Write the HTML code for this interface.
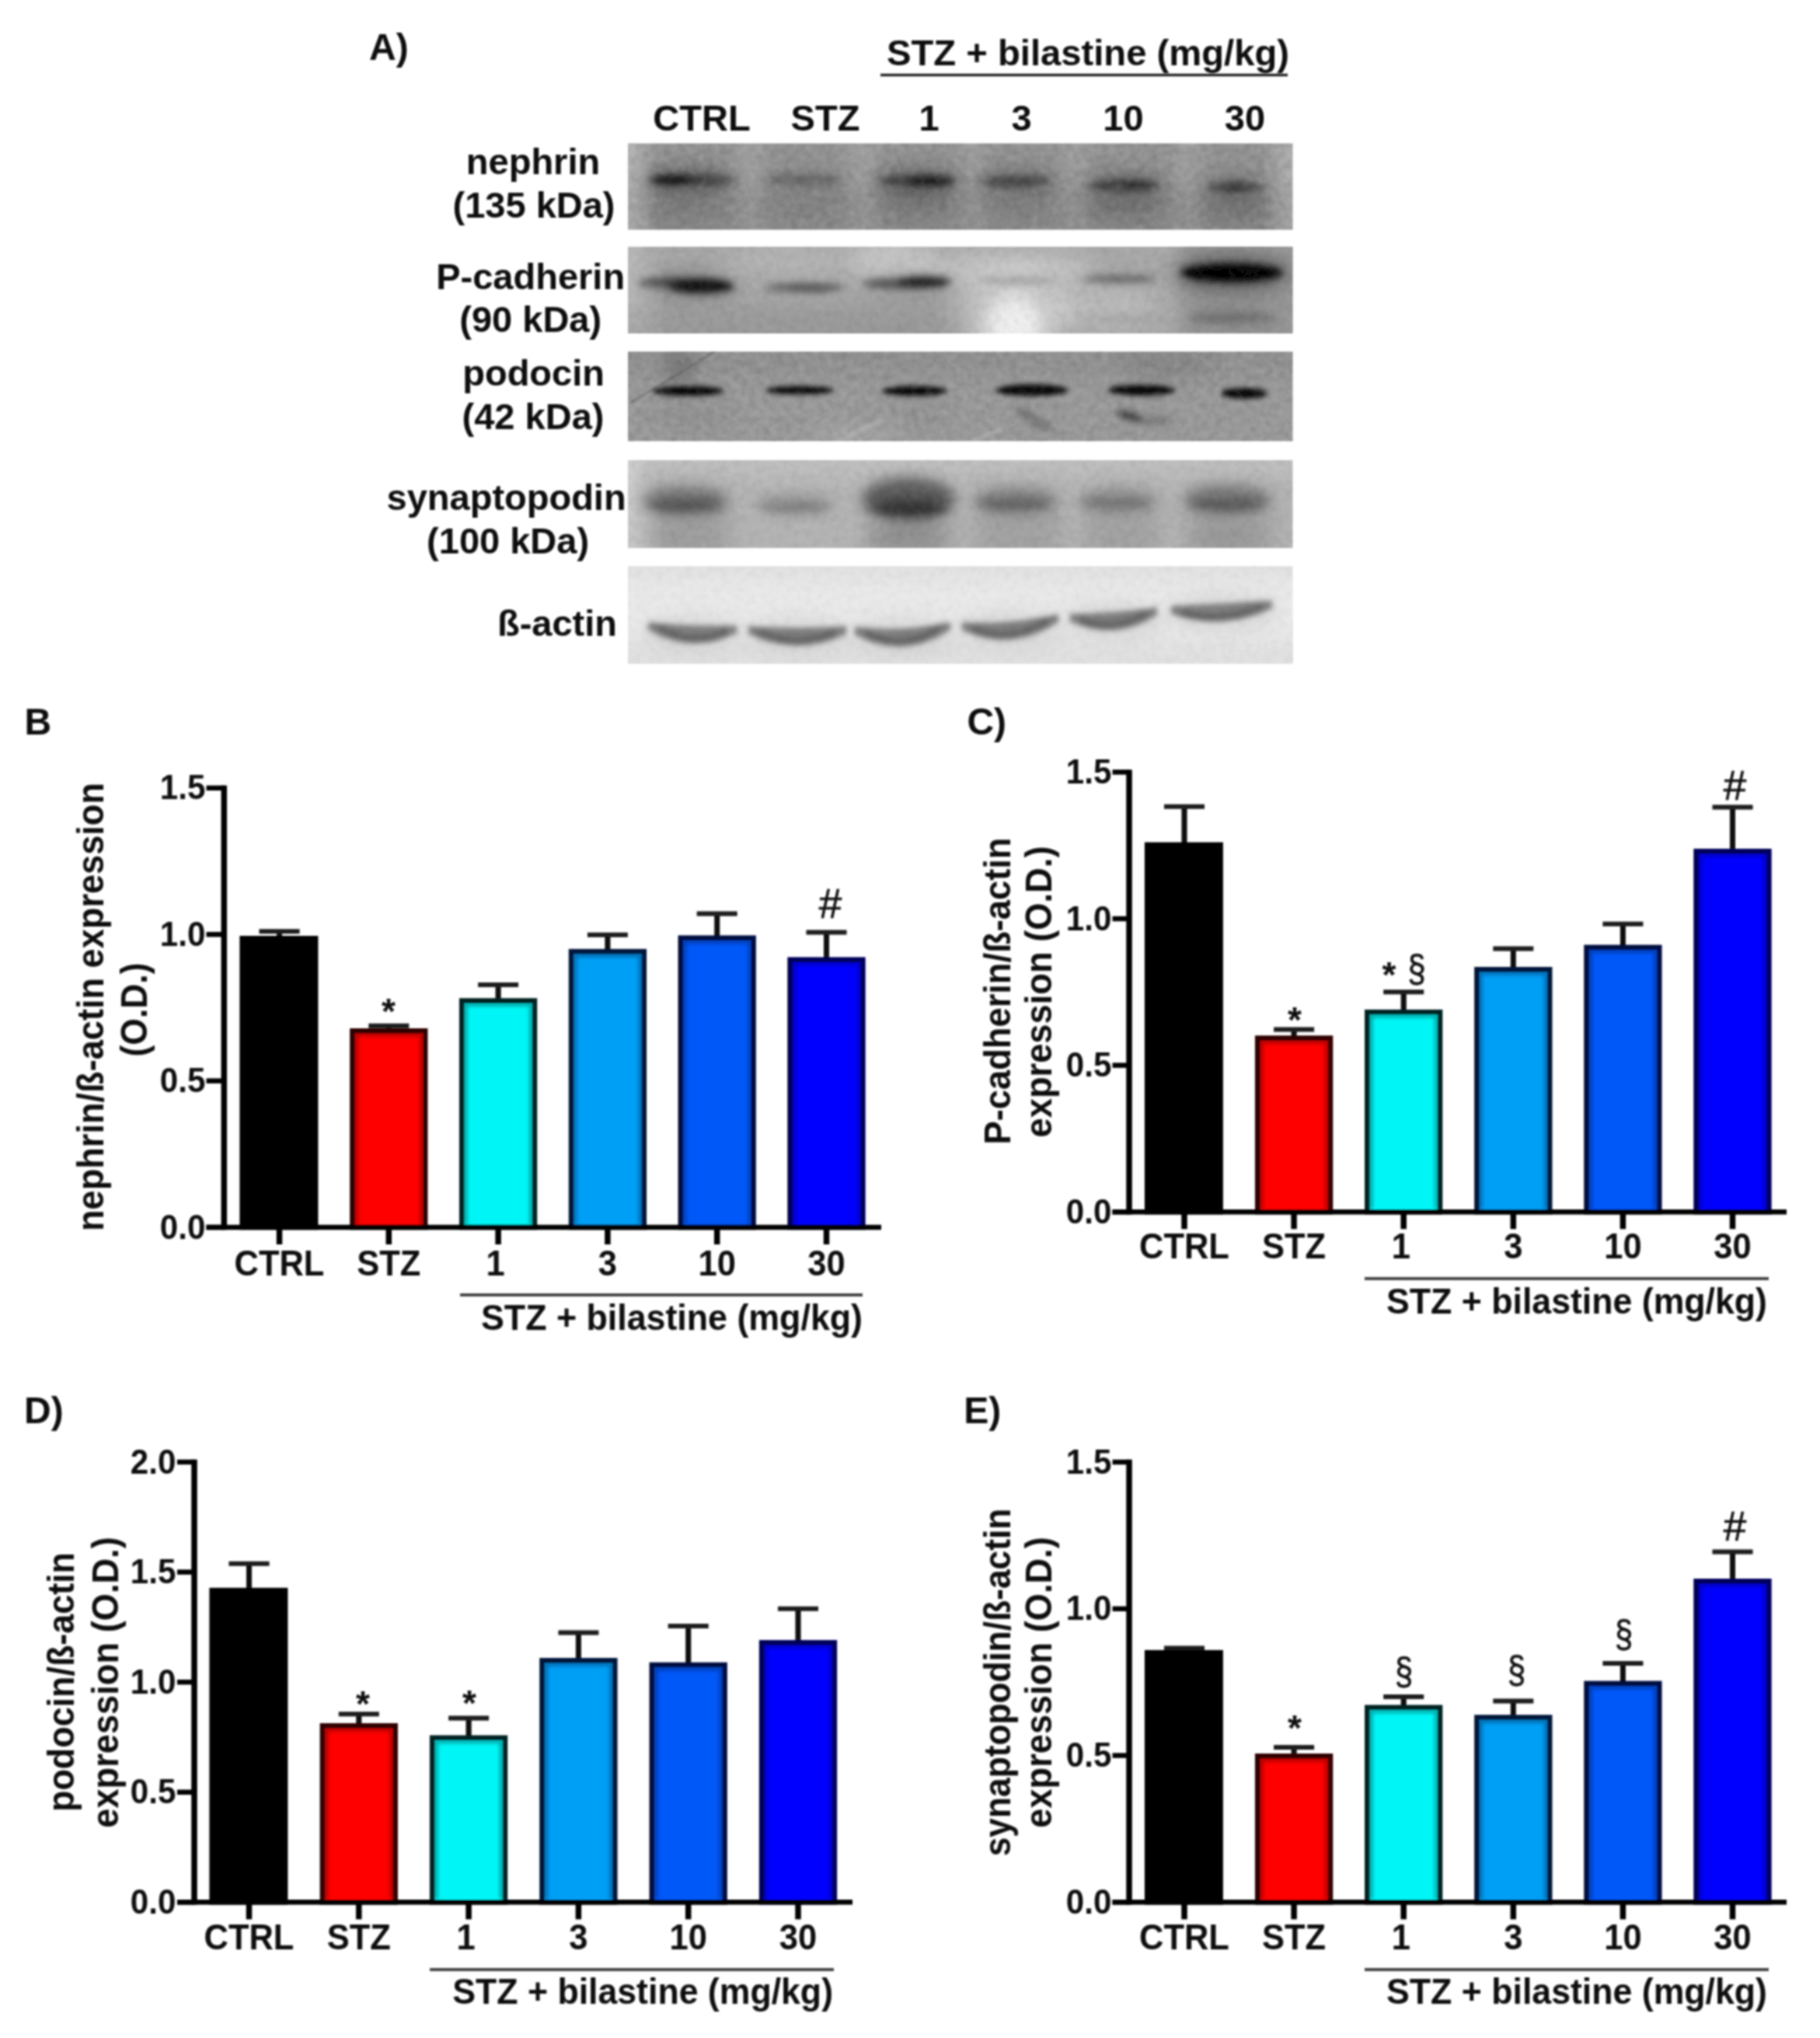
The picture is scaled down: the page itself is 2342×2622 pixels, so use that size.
<!DOCTYPE html>
<html lang="en"><head><meta charset="utf-8"><title>Figure</title>
<style>html,body{margin:0;padding:0;background:#fff}svg{display:block}text{font-family:"Liberation Sans",sans-serif;fill:#0a0a0a}</style></head><body>
<svg width="2342" height="2622" viewBox="0 0 2342 2622">
<defs>
<filter id="blur1" x="-20%" y="-50%" width="140%" height="200%"><feGaussianBlur stdDeviation="1"/></filter>
<filter id="blur2" x="-20%" y="-50%" width="140%" height="200%"><feGaussianBlur stdDeviation="2"/></filter>
<filter id="blur3" x="-20%" y="-50%" width="140%" height="200%"><feGaussianBlur stdDeviation="3"/></filter>
<filter id="blur5" x="-20%" y="-50%" width="140%" height="200%"><feGaussianBlur stdDeviation="5"/></filter>
<filter id="blur8" x="-20%" y="-50%" width="140%" height="200%"><feGaussianBlur stdDeviation="8"/></filter>
<filter id="blur12" x="-20%" y="-50%" width="140%" height="200%"><feGaussianBlur stdDeviation="12"/></filter>
<filter id="grain" x="0" y="0" width="100%" height="100%"><feTurbulence type="fractalNoise" baseFrequency="0.11" numOctaves="2" seed="7" result="n"/><feColorMatrix in="n" type="matrix" values="0 0 0 0 0  0 0 0 0 0  0 0 0 0 0  0.9 0 0 0 -0.33"/></filter>
<filter id="grainw" x="0" y="0" width="100%" height="100%"><feTurbulence type="fractalNoise" baseFrequency="0.11" numOctaves="2" seed="11" result="n"/><feColorMatrix in="n" type="matrix" values="0 0 0 0 1  0 0 0 0 1  0 0 0 0 1  0.9 0 0 0 -0.36"/></filter>
<filter id="soft" x="-2%" y="-2%" width="104%" height="104%"><feGaussianBlur stdDeviation="0.9"/></filter>
</defs>
<rect width="2342" height="2622" fill="#ffffff"/>
<g filter="url(#soft)">
<text x="475" y="77" font-size="48" font-weight="bold" text-anchor="start" >A)</text>
<text x="1141" y="83.5" font-size="47" font-weight="bold" text-anchor="start" textLength="518" lengthAdjust="spacingAndGlyphs" >STZ + bilastine (mg/kg)</text>
<line x1="1133" y1="96.5" x2="1657" y2="96.5" stroke="#222" stroke-width="3.5"/>
<text x="903" y="168" font-size="47" font-weight="bold" text-anchor="middle" >CTRL</text>
<text x="1062" y="168" font-size="47" font-weight="bold" text-anchor="middle" >STZ</text>
<text x="1195.5" y="168" font-size="47" font-weight="bold" text-anchor="middle" >1</text>
<text x="1314.5" y="168" font-size="47" font-weight="bold" text-anchor="middle" >3</text>
<text x="1445.5" y="168" font-size="47" font-weight="bold" text-anchor="middle" >10</text>
<text x="1602" y="168" font-size="47" font-weight="bold" text-anchor="middle" >30</text>
<text x="686" y="224" font-size="47" font-weight="bold" text-anchor="middle" >nephrin</text>
<text x="687" y="280" font-size="47" font-weight="bold" text-anchor="middle" >(135 kDa)</text>
<text x="682.7" y="371.5" font-size="47" font-weight="bold" text-anchor="middle" >P-cadherin</text>
<text x="682.7" y="426.5" font-size="47" font-weight="bold" text-anchor="middle" >(90 kDa)</text>
<text x="686.6" y="496" font-size="47" font-weight="bold" text-anchor="middle" >podocin</text>
<text x="686" y="552" font-size="47" font-weight="bold" text-anchor="middle" >(42 kDa)</text>
<text x="651.6" y="656" font-size="47" font-weight="bold" text-anchor="middle" >synaptopodin</text>
<text x="653.6" y="711.7" font-size="47" font-weight="bold" text-anchor="middle" >(100 kDa)</text>
<text x="717" y="817.5" font-size="47" font-weight="bold" text-anchor="middle" >ß-actin</text>
<clipPath id="cp_b1"><rect x="808" y="184.5" width="855.5" height="111.0"/></clipPath>
<g clip-path="url(#cp_b1)">
<rect x="788" y="164.5" width="895.5" height="151.0" fill="#a2a2a2"/>
<g filter="url(#blur12)"><rect x="825" y="154.5" width="125" height="171.0" fill="#000" opacity="0.09"/><rect x="980" y="154.5" width="115" height="171.0" fill="#000" opacity="0.09"/><rect x="1125" y="154.5" width="115" height="171.0" fill="#000" opacity="0.09"/><rect x="1262" y="154.5" width="110" height="171.0" fill="#000" opacity="0.09"/><rect x="1395" y="154.5" width="120" height="171.0" fill="#000" opacity="0.09"/><rect x="1540" y="154.5" width="110" height="171.0" fill="#000" opacity="0.09"/><rect x="778" y="239.5" width="915.5" height="90" fill="#000" opacity="0.07"/><rect x="778" y="154.5" width="40" height="171.0" fill="#fff" opacity="0.22"/><rect x="1651.5" y="154.5" width="42" height="171.0" fill="#fff" opacity="0.15"/><ellipse cx="885" cy="232" rx="62" ry="16" fill="#000" opacity="0.3"/><ellipse cx="1035" cy="231" rx="55" ry="16" fill="#000" opacity="0.1"/><ellipse cx="1181" cy="233" rx="58" ry="16" fill="#000" opacity="0.3"/><ellipse cx="1308" cy="233" rx="52" ry="16" fill="#000" opacity="0.22"/><ellipse cx="1447" cy="238" rx="55" ry="16" fill="#000" opacity="0.25"/><ellipse cx="1589" cy="241" rx="45" ry="16" fill="#000" opacity="0.2"/><ellipse cx="880" cy="266" rx="55" ry="10" fill="#000" opacity="0.14"/><ellipse cx="1181" cy="262" rx="50" ry="10" fill="#000" opacity="0.2"/><ellipse cx="1447" cy="268" rx="55" ry="10" fill="#000" opacity="0.22"/><ellipse cx="1589" cy="270" rx="50" ry="10" fill="#000" opacity="0.2"/><ellipse cx="1308" cy="262" rx="50" ry="10" fill="#000" opacity="0.1"/><ellipse cx="1035" cy="262" rx="50" ry="10" fill="#000" opacity="0.06"/></g>
<g filter="url(#blur5)"><ellipse cx="888" cy="231.5" rx="56" ry="7" fill="#000" opacity="0.45"/><ellipse cx="864" cy="231.5" rx="26" ry="7.5" fill="#000" opacity="0.6"/><ellipse cx="1035" cy="231" rx="50" ry="5" fill="#000" opacity="0.3"/><ellipse cx="1181" cy="232.5" rx="50" ry="7" fill="#000" opacity="0.45"/><ellipse cx="1197" cy="233" rx="28" ry="7.5" fill="#000" opacity="0.55"/><ellipse cx="1308" cy="233" rx="46" ry="7" fill="#000" opacity="0.42"/><ellipse cx="1447" cy="238" rx="46" ry="7" fill="#000" opacity="0.45"/><ellipse cx="1462" cy="239" rx="22" ry="6" fill="#000" opacity="0.3"/><ellipse cx="1589" cy="241" rx="34" ry="7" fill="#000" opacity="0.4"/><ellipse cx="1589" cy="241" rx="14" ry="6" fill="#000" opacity="0.3"/></g>

<rect x="808" y="184.5" width="855.5" height="111.0" filter="url(#grain)" opacity="0.22"/>
<rect x="808" y="184.5" width="855.5" height="111.0" filter="url(#grainw)" opacity="0.22"/>
</g>
<clipPath id="cp_b2"><rect x="808" y="317.5" width="855.5" height="111.5"/></clipPath>
<g clip-path="url(#cp_b2)">
<rect x="788" y="297.5" width="895.5" height="151.5" fill="#a8a8a8"/>
<g filter="url(#blur12)"><ellipse cx="1305" cy="418" rx="38" ry="40" fill="#fff" opacity="0.75"/><ellipse cx="1305" cy="400" rx="75" ry="55" fill="#fff" opacity="0.28"/><ellipse cx="1150" cy="335" rx="55" ry="25" fill="#fff" opacity="0.35"/><ellipse cx="1300" cy="345" rx="110" ry="22" fill="#fff" opacity="0.3"/><ellipse cx="1420" cy="395" rx="70" ry="30" fill="#fff" opacity="0.2"/><ellipse cx="1020" cy="335" rx="90" ry="18" fill="#fff" opacity="0.15"/><rect x="778" y="287.5" width="50" height="171.5" fill="#fff" opacity="0.2"/><rect x="778" y="392.5" width="470" height="80" fill="#000" opacity="0.08"/><rect x="1520" y="287.5" width="200" height="171.5" fill="#000" opacity="0.1"/><ellipse cx="888" cy="366" rx="65" ry="18" fill="#000" opacity="0.2"/><ellipse cx="1170" cy="364" rx="60" ry="16" fill="#000" opacity="0.15"/><ellipse cx="1585" cy="352" rx="75" ry="24" fill="#000" opacity="0.35"/><ellipse cx="1585" cy="408" rx="60" ry="10" fill="#000" opacity="0.15"/></g>
<g filter="url(#blur5)"><ellipse cx="1585" cy="409" rx="58" ry="6" fill="#000" opacity="0.2"/><ellipse cx="1440" cy="409" rx="52" ry="5" fill="#000" opacity="0.08"/><ellipse cx="880" cy="364" rx="60" ry="7" fill="#000" opacity="0.5"/><ellipse cx="903" cy="369" rx="42" ry="9" fill="#000" opacity="0.8"/><ellipse cx="1035" cy="370" rx="52" ry="6" fill="#000" opacity="0.4"/><ellipse cx="1045" cy="371" rx="30" ry="5" fill="#000" opacity="0.2"/><ellipse cx="1165" cy="365" rx="55" ry="7" fill="#000" opacity="0.5"/><ellipse cx="1190" cy="362" rx="34" ry="7" fill="#000" opacity="0.65"/><ellipse cx="1310" cy="361" rx="50" ry="4.5" fill="#000" opacity="0.22"/><ellipse cx="1440" cy="359" rx="48" ry="5.5" fill="#000" opacity="0.38"/><ellipse cx="1585" cy="351" rx="66" ry="12" fill="#000" opacity="0.95"/><ellipse cx="1585" cy="351" rx="58" ry="10" fill="#000" opacity="1"/></g>

<rect x="808" y="317.5" width="855.5" height="111.5" filter="url(#grain)" opacity="0.13"/>
<rect x="808" y="317.5" width="855.5" height="111.5" filter="url(#grainw)" opacity="0.13"/>
</g>
<clipPath id="cp_b3"><rect x="808" y="452.5" width="855.5" height="115.0"/></clipPath>
<g clip-path="url(#cp_b3)">
<rect x="788" y="432.5" width="895.5" height="155.0" fill="#9a9a9a"/>
<g filter="url(#blur12)"><rect x="778" y="422.5" width="915.5" height="60" fill="#000" opacity="0.05"/><ellipse cx="875" cy="472" rx="18" ry="28" fill="#000" opacity="0.2"/><ellipse cx="890" cy="535" rx="55" ry="10" fill="#000" opacity="0.08"/><ellipse cx="1180" cy="535" rx="40" ry="10" fill="#000" opacity="0.06"/><ellipse cx="1100" cy="560" rx="60" ry="14" fill="#fff" opacity="0.12"/><ellipse cx="1500" cy="470" rx="60" ry="20" fill="#000" opacity="0.08"/></g>
<g filter="url(#blur3)"><ellipse cx="886" cy="503" rx="46" ry="6.5" fill="#000" opacity="0.97"/><ellipse cx="1029" cy="502" rx="44" ry="5.5" fill="#000" opacity="0.97"/><ellipse cx="1177" cy="503" rx="42" ry="6.5" fill="#000" opacity="0.97"/><ellipse cx="1328" cy="502" rx="47" ry="7.5" fill="#000" opacity="0.97"/><ellipse cx="1469" cy="502" rx="43" ry="7" fill="#000" opacity="0.97"/><ellipse cx="1601" cy="506" rx="30" ry="7" fill="#000" opacity="0.97"/></g>
<g filter="url(#blur5)"><ellipse cx="1330" cy="540" rx="30" ry="5" fill="#000" opacity="0.3" transform="rotate(30 1330 540)"/><ellipse cx="1453" cy="535" rx="16" ry="5" fill="#000" opacity="0.7" transform="rotate(15 1453 535)"/><ellipse cx="1485" cy="541" rx="25" ry="6" fill="#000" opacity="0.2"/></g><g filter="url(#blur1)" stroke="#444" stroke-width="1.6" opacity="0.55"><line x1="812" y1="518" x2="920" y2="452"/></g><g filter="url(#blur2)" stroke="#ccc" stroke-width="3" opacity="0.6"><line x1="1080" y1="567" x2="1135" y2="540"/><line x1="1250" y1="567" x2="1290" y2="552"/></g>
<rect x="808" y="452.5" width="855.5" height="115.0" filter="url(#grain)" opacity="0.22"/>
<rect x="808" y="452.5" width="855.5" height="115.0" filter="url(#grainw)" opacity="0.22"/>
</g>
<clipPath id="cp_b4"><rect x="808" y="592" width="855.5" height="113"/></clipPath>
<g clip-path="url(#cp_b4)">
<rect x="788" y="572" width="895.5" height="153" fill="#b4b4b4"/>
<g filter="url(#blur12)"><rect x="778" y="562" width="915.5" height="55" fill="#fff" opacity="0.15"/><rect x="778" y="562" width="45" height="173" fill="#fff" opacity="0.3"/><rect x="830" y="612" width="110" height="113" fill="#000" opacity="0.09"/><rect x="1115" y="612" width="110" height="113" fill="#000" opacity="0.09"/><rect x="1255" y="612" width="110" height="113" fill="#000" opacity="0.09"/><rect x="1395" y="612" width="95" height="113" fill="#000" opacity="0.09"/><rect x="1525" y="612" width="115" height="113" fill="#000" opacity="0.09"/><ellipse cx="1169" cy="690" rx="50" ry="15" fill="#000" opacity="0.15"/><ellipse cx="1579" cy="690" rx="45" ry="12" fill="#000" opacity="0.1"/><ellipse cx="881" cy="690" rx="45" ry="12" fill="#000" opacity="0.06"/></g>
<g filter="url(#blur8)"><ellipse cx="881" cy="645" rx="55" ry="19" fill="#000" opacity="0.3"/><ellipse cx="881" cy="650" rx="45" ry="8" fill="#000" opacity="0.15"/><ellipse cx="1023" cy="650" rx="50" ry="13" fill="#000" opacity="0.2"/><ellipse cx="1169" cy="642" rx="60" ry="28" fill="#000" opacity="0.45"/><ellipse cx="1172" cy="652" rx="45" ry="12" fill="#000" opacity="0.3"/><ellipse cx="1306" cy="645" rx="52" ry="16" fill="#000" opacity="0.28"/><ellipse cx="1437" cy="645" rx="50" ry="14" fill="#000" opacity="0.2"/><ellipse cx="1579" cy="643" rx="55" ry="19" fill="#000" opacity="0.3"/><ellipse cx="1579" cy="650" rx="45" ry="8" fill="#000" opacity="0.1"/></g>
<g filter="url(#blur5)"><ellipse cx="881" cy="651" rx="50" ry="4.5" fill="#000" opacity="0.22"/><ellipse cx="1023" cy="653" rx="46" ry="4" fill="#000" opacity="0.16"/><ellipse cx="1169" cy="656" rx="52" ry="6" fill="#000" opacity="0.3"/><ellipse cx="1306" cy="650" rx="48" ry="4.5" fill="#000" opacity="0.2"/><ellipse cx="1437" cy="648" rx="46" ry="4" fill="#000" opacity="0.15"/><ellipse cx="1579" cy="650" rx="50" ry="4.5" fill="#000" opacity="0.2"/></g>
<rect x="808" y="592" width="855.5" height="113" filter="url(#grain)" opacity="0.13"/>
<rect x="808" y="592" width="855.5" height="113" filter="url(#grainw)" opacity="0.13"/>
</g>
<clipPath id="cp_b5"><rect x="808" y="728.5" width="855.5" height="125.5"/></clipPath>
<g clip-path="url(#cp_b5)">
<rect x="788" y="708.5" width="895.5" height="165.5" fill="#e9e9e9"/>
<g filter="url(#blur12)"><rect x="778" y="824" width="915.5" height="60" fill="#000" opacity="0.03"/><rect x="778" y="698.5" width="915.5" height="45" fill="#000" opacity="0.03"/><ellipse cx="891" cy="816" rx="63.0" ry="22" fill="#000" opacity="0.07"/><ellipse cx="1026" cy="819" rx="69.0" ry="22" fill="#000" opacity="0.07"/><ellipse cx="1161" cy="820" rx="67.5" ry="22" fill="#000" opacity="0.07"/><ellipse cx="1300" cy="811" rx="68.0" ry="22" fill="#000" opacity="0.07"/><ellipse cx="1433" cy="799" rx="62.0" ry="22" fill="#000" opacity="0.07"/><ellipse cx="1572" cy="788" rx="71.0" ry="22" fill="#000" opacity="0.07"/></g>
<g filter="url(#blur3)"><path d="M836,802.5 Q891.0,808.5 946,806.5 L946,813.5 Q891.0,840.5 836,809.5 Z" fill="#7e7e7e" stroke="#7e7e7e" stroke-width="4" stroke-linejoin="round"/><path d="M850,809 Q891.0,830.0 932,813" fill="none" stroke="#555" stroke-width="8" stroke-linecap="round" opacity="0.65"/><path d="M965,807.5 Q1026.0,811.5 1087,807.5 L1087,814.5 Q1026.0,843.5 965,814.5 Z" fill="#7e7e7e" stroke="#7e7e7e" stroke-width="4" stroke-linejoin="round"/><path d="M979,814 Q1026.0,833.0 1073,814" fill="none" stroke="#555" stroke-width="8" stroke-linecap="round" opacity="0.65"/><path d="M1102,808.5 Q1160.5,815.5 1221,802.5 L1221,809.5 Q1160.5,847.5 1102,815.5 Z" fill="#7e7e7e" stroke="#7e7e7e" stroke-width="4" stroke-linejoin="round"/><path d="M1116,815 Q1160.5,837.0 1207,809" fill="none" stroke="#555" stroke-width="8" stroke-linecap="round" opacity="0.65"/><path d="M1240,802.5 Q1300.0,805.5 1360,792.5 L1360,799.5 Q1300.0,837.5 1240,809.5 Z" fill="#7e7e7e" stroke="#7e7e7e" stroke-width="4" stroke-linejoin="round"/><path d="M1254,809 Q1300.0,827.0 1346,799" fill="none" stroke="#555" stroke-width="8" stroke-linecap="round" opacity="0.65"/><path d="M1379,791.5 Q1433.0,791.5 1487,783.5 L1487,790.5 Q1433.0,823.5 1379,798.5 Z" fill="#7e7e7e" stroke="#7e7e7e" stroke-width="4" stroke-linejoin="round"/><path d="M1393,798 Q1433.0,813.0 1473,790" fill="none" stroke="#555" stroke-width="8" stroke-linecap="round" opacity="0.65"/><path d="M1509,781.5 Q1572.0,779.0 1635,774.5 L1635,781.5 Q1572.0,811.0 1509,788.5 Z" fill="#7e7e7e" stroke="#7e7e7e" stroke-width="4" stroke-linejoin="round"/><path d="M1523,788 Q1572.0,800.5 1621,781" fill="none" stroke="#555" stroke-width="8" stroke-linecap="round" opacity="0.65"/></g>

<rect x="808" y="728.5" width="855.5" height="125.5" filter="url(#grain)" opacity="0.07"/>
<rect x="808" y="728.5" width="855.5" height="125.5" filter="url(#grainw)" opacity="0.07"/>
</g>
<text x="31.5" y="945" font-size="48" font-weight="bold" text-anchor="start" >B</text>
<text x="1244.4" y="945" font-size="48" font-weight="bold" text-anchor="start" >C)</text>
<text x="31" y="1831" font-size="48" font-weight="bold" text-anchor="start" >D)</text>
<text x="1240.2" y="1831" font-size="48" font-weight="bold" text-anchor="start" >E)</text>
<line x1="359.5" y1="1198.3" x2="359.5" y2="1207" stroke="#0a0a0a" stroke-width="7"/>
<line x1="333.5" y1="1198.3" x2="385.5" y2="1198.3" stroke="#1c1c1c" stroke-width="6"/>
<rect x="311.65" y="1207.25" width="94.5" height="371.75" fill="#000000" stroke="#000000" stroke-width="6.5"/>
<line x1="500.3" y1="1319.8" x2="500.3" y2="1326" stroke="#0a0a0a" stroke-width="7"/>
<line x1="474.3" y1="1319.8" x2="526.3" y2="1319.8" stroke="#1c1c1c" stroke-width="6"/>
<rect x="453.40000000000003" y="1326.25" width="93.8" height="252.75" fill="#ff0000" stroke="#300000" stroke-width="6.5"/>
<g filter="url(#blur2)" opacity="0.38" stroke="#300000" stroke-width="5" fill="none"><path d="M458.15000000000003,1575 V1331.0 H542.45 V1575"/></g>
<line x1="641.1" y1="1267" x2="641.1" y2="1287.2" stroke="#0a0a0a" stroke-width="7"/>
<line x1="615.1" y1="1267" x2="667.1" y2="1267" stroke="#1c1c1c" stroke-width="6"/>
<rect x="594.2" y="1287.45" width="93.8" height="291.54999999999995" fill="#00f6f6" stroke="#062222" stroke-width="6.5"/>
<g filter="url(#blur2)" opacity="0.38" stroke="#062222" stroke-width="5" fill="none"><path d="M598.95,1575 V1292.2 H683.25 V1575"/></g>
<line x1="781.9000000000001" y1="1202.7" x2="781.9000000000001" y2="1223.9" stroke="#0a0a0a" stroke-width="7"/>
<line x1="755.9000000000001" y1="1202.7" x2="807.9000000000001" y2="1202.7" stroke="#1c1c1c" stroke-width="6"/>
<rect x="735.0000000000001" y="1224.15" width="93.8" height="354.8499999999999" fill="#009ff6" stroke="#03183a" stroke-width="6.5"/>
<g filter="url(#blur2)" opacity="0.38" stroke="#03183a" stroke-width="5" fill="none"><path d="M739.7500000000001,1575 V1228.9 H824.0500000000001 V1575"/></g>
<line x1="922.7" y1="1175.4" x2="922.7" y2="1206.4" stroke="#0a0a0a" stroke-width="7"/>
<line x1="896.7" y1="1175.4" x2="948.7" y2="1175.4" stroke="#1c1c1c" stroke-width="6"/>
<rect x="875.8000000000001" y="1206.65" width="93.8" height="372.3499999999999" fill="#0058f8" stroke="#020f40" stroke-width="6.5"/>
<g filter="url(#blur2)" opacity="0.38" stroke="#020f40" stroke-width="5" fill="none"><path d="M880.5500000000001,1575 V1211.4 H964.85 V1575"/></g>
<line x1="1063.5" y1="1199.5" x2="1063.5" y2="1234.4" stroke="#0a0a0a" stroke-width="7"/>
<line x1="1037.5" y1="1199.5" x2="1089.5" y2="1199.5" stroke="#1c1c1c" stroke-width="6"/>
<rect x="1016.6" y="1234.65" width="93.8" height="344.3499999999999" fill="#0000ff" stroke="#00005a" stroke-width="6.5"/>
<g filter="url(#blur2)" opacity="0.38" stroke="#00005a" stroke-width="5" fill="none"><path d="M1021.35,1575 V1239.4 H1105.65 V1575"/></g>
<line x1="288.3" y1="1010.55" x2="288.3" y2="1582.25" stroke="#000" stroke-width="7.5"/>
<line x1="265.5" y1="1579" x2="1134" y2="1579" stroke="#000" stroke-width="6.5"/>
<line x1="265.5" y1="1579.0" x2="288.3" y2="1579.0" stroke="#000" stroke-width="6.5"/>
<text transform="translate(264.3 1593.6) scale(0.935 1)" font-size="45" font-weight="bold" text-anchor="end" >0.0</text>
<line x1="265.5" y1="1390.6" x2="288.3" y2="1390.6" stroke="#000" stroke-width="6.5"/>
<text transform="translate(264.3 1405.1999999999998) scale(0.935 1)" font-size="45" font-weight="bold" text-anchor="end" >0.5</text>
<line x1="265.5" y1="1202.2" x2="288.3" y2="1202.2" stroke="#000" stroke-width="6.5"/>
<text transform="translate(264.3 1216.8) scale(0.935 1)" font-size="45" font-weight="bold" text-anchor="end" >1.0</text>
<line x1="265.5" y1="1013.8" x2="288.3" y2="1013.8" stroke="#000" stroke-width="6.5"/>
<text transform="translate(264.3 1028.3999999999999) scale(0.935 1)" font-size="45" font-weight="bold" text-anchor="end" >1.5</text>
<line x1="359.5" y1="1579" x2="359.5" y2="1601" stroke="#000" stroke-width="7.5"/>
<line x1="500.3" y1="1579" x2="500.3" y2="1601" stroke="#000" stroke-width="7.5"/>
<line x1="641.1" y1="1579" x2="641.1" y2="1601" stroke="#000" stroke-width="7.5"/>
<line x1="781.9000000000001" y1="1579" x2="781.9000000000001" y2="1601" stroke="#000" stroke-width="7.5"/>
<line x1="922.7" y1="1579" x2="922.7" y2="1601" stroke="#000" stroke-width="7.5"/>
<line x1="1063.5" y1="1579" x2="1063.5" y2="1601" stroke="#000" stroke-width="7.5"/>
<text transform="translate(359.5 1640.5) scale(0.955 1)" font-size="45.5" font-weight="bold" text-anchor="middle" >CTRL</text>
<text transform="translate(500.3 1640.5) scale(0.955 1)" font-size="45.5" font-weight="bold" text-anchor="middle" >STZ</text>
<text transform="translate(637.6 1640.5) scale(0.955 1)" font-size="45.5" font-weight="bold" text-anchor="middle" >1</text>
<text transform="translate(781.9000000000001 1640.5) scale(0.955 1)" font-size="45.5" font-weight="bold" text-anchor="middle" >3</text>
<text transform="translate(922.7 1640.5) scale(0.955 1)" font-size="45.5" font-weight="bold" text-anchor="middle" >10</text>
<text transform="translate(1063.5 1640.5) scale(0.955 1)" font-size="45.5" font-weight="bold" text-anchor="middle" >30</text>
<line x1="592" y1="1666" x2="1110" y2="1666" stroke="#444" stroke-width="4"/>
<text x="619" y="1710.5" font-size="46" font-weight="bold" text-anchor="start" textLength="491" lengthAdjust="spacingAndGlyphs" >STZ + bilastine (mg/kg)</text>
<text transform="translate(133 1295.5) rotate(-90)" font-size="48" font-weight="bold" text-anchor="middle" textLength="577" lengthAdjust="spacingAndGlyphs">nephrin/ß-actin expression</text>
<text transform="translate(188.5 1299) rotate(-90)" font-size="48" font-weight="bold" text-anchor="middle" textLength="121" lengthAdjust="spacingAndGlyphs">(O.D.)</text>
<text transform="translate(500 1316.5) scale(1 1)" font-size="46" font-weight="bold" text-anchor="middle">*</text>
<text transform="translate(1068.5 1181) scale(1 1)" font-size="53" font-weight="normal" text-anchor="middle" stroke="#0a0a0a" stroke-width="0.7">#</text>
<line x1="1524.0" y1="1037.8" x2="1524.0" y2="1086.6" stroke="#0a0a0a" stroke-width="7"/>
<line x1="1498.0" y1="1037.8" x2="1550.0" y2="1037.8" stroke="#1c1c1c" stroke-width="6"/>
<rect x="1476.15" y="1086.85" width="94.5" height="472.35000000000014" fill="#000000" stroke="#000000" stroke-width="6.5"/>
<line x1="1665.1" y1="1324.6" x2="1665.1" y2="1335.3" stroke="#0a0a0a" stroke-width="7"/>
<line x1="1639.1" y1="1324.6" x2="1691.1" y2="1324.6" stroke="#1c1c1c" stroke-width="6"/>
<rect x="1618.1999999999998" y="1335.55" width="93.8" height="223.6500000000001" fill="#ff0000" stroke="#300000" stroke-width="6.5"/>
<g filter="url(#blur2)" opacity="0.38" stroke="#300000" stroke-width="5" fill="none"><path d="M1622.9499999999998,1555.2 V1340.3 H1707.25 V1555.2"/></g>
<line x1="1806.2" y1="1276.3" x2="1806.2" y2="1301.8" stroke="#0a0a0a" stroke-width="7"/>
<line x1="1780.2" y1="1276.3" x2="1832.2" y2="1276.3" stroke="#1c1c1c" stroke-width="6"/>
<rect x="1759.3" y="1302.05" width="93.8" height="257.1500000000001" fill="#00f6f6" stroke="#062222" stroke-width="6.5"/>
<g filter="url(#blur2)" opacity="0.38" stroke="#062222" stroke-width="5" fill="none"><path d="M1764.05,1555.2 V1306.8 H1848.3500000000001 V1555.2"/></g>
<line x1="1947.3" y1="1220.6" x2="1947.3" y2="1247" stroke="#0a0a0a" stroke-width="7"/>
<line x1="1921.3" y1="1220.6" x2="1973.3" y2="1220.6" stroke="#1c1c1c" stroke-width="6"/>
<rect x="1900.3999999999999" y="1247.25" width="93.8" height="311.95000000000005" fill="#009ff6" stroke="#03183a" stroke-width="6.5"/>
<g filter="url(#blur2)" opacity="0.38" stroke="#03183a" stroke-width="5" fill="none"><path d="M1905.1499999999999,1555.2 V1252.0 H1989.45 V1555.2"/></g>
<line x1="2088.4" y1="1188.8" x2="2088.4" y2="1218.6" stroke="#0a0a0a" stroke-width="7"/>
<line x1="2062.4" y1="1188.8" x2="2114.4" y2="1188.8" stroke="#1c1c1c" stroke-width="6"/>
<rect x="2041.5" y="1218.85" width="93.8" height="340.35000000000014" fill="#0058f8" stroke="#020f40" stroke-width="6.5"/>
<g filter="url(#blur2)" opacity="0.38" stroke="#020f40" stroke-width="5" fill="none"><path d="M2046.25,1555.2 V1223.6 H2130.55 V1555.2"/></g>
<line x1="2229.5" y1="1038.6" x2="2229.5" y2="1094.9" stroke="#0a0a0a" stroke-width="7"/>
<line x1="2203.5" y1="1038.6" x2="2255.5" y2="1038.6" stroke="#1c1c1c" stroke-width="6"/>
<rect x="2182.6" y="1095.15" width="93.8" height="464.04999999999995" fill="#0000ff" stroke="#00005a" stroke-width="6.5"/>
<g filter="url(#blur2)" opacity="0.38" stroke="#00005a" stroke-width="5" fill="none"><path d="M2187.35,1555.2 V1099.9 H2271.65 V1555.2"/></g>
<line x1="1453" y1="990.1500000000001" x2="1453" y2="1562.45" stroke="#000" stroke-width="7.5"/>
<line x1="1431.5" y1="1559.2" x2="2299" y2="1559.2" stroke="#000" stroke-width="6.5"/>
<line x1="1431.5" y1="1559.2" x2="1453" y2="1559.2" stroke="#000" stroke-width="6.5"/>
<text transform="translate(1430.3 1573.8) scale(0.935 1)" font-size="45" font-weight="bold" text-anchor="end" >0.0</text>
<line x1="1431.5" y1="1370.6000000000001" x2="1453" y2="1370.6000000000001" stroke="#000" stroke-width="6.5"/>
<text transform="translate(1430.3 1385.2) scale(0.935 1)" font-size="45" font-weight="bold" text-anchor="end" >0.5</text>
<line x1="1431.5" y1="1182.0" x2="1453" y2="1182.0" stroke="#000" stroke-width="6.5"/>
<text transform="translate(1430.3 1196.6) scale(0.935 1)" font-size="45" font-weight="bold" text-anchor="end" >1.0</text>
<line x1="1431.5" y1="993.4000000000001" x2="1453" y2="993.4000000000001" stroke="#000" stroke-width="6.5"/>
<text transform="translate(1430.3 1008.0000000000001) scale(0.935 1)" font-size="45" font-weight="bold" text-anchor="end" >1.5</text>
<line x1="1524.0" y1="1559.2" x2="1524.0" y2="1581.2" stroke="#000" stroke-width="7.5"/>
<line x1="1665.1" y1="1559.2" x2="1665.1" y2="1581.2" stroke="#000" stroke-width="7.5"/>
<line x1="1806.2" y1="1559.2" x2="1806.2" y2="1581.2" stroke="#000" stroke-width="7.5"/>
<line x1="1947.3" y1="1559.2" x2="1947.3" y2="1581.2" stroke="#000" stroke-width="7.5"/>
<line x1="2088.4" y1="1559.2" x2="2088.4" y2="1581.2" stroke="#000" stroke-width="7.5"/>
<line x1="2229.5" y1="1559.2" x2="2229.5" y2="1581.2" stroke="#000" stroke-width="7.5"/>
<text transform="translate(1524.0 1619) scale(0.955 1)" font-size="45.5" font-weight="bold" text-anchor="middle" >CTRL</text>
<text transform="translate(1665.1 1619) scale(0.955 1)" font-size="45.5" font-weight="bold" text-anchor="middle" >STZ</text>
<text transform="translate(1802.7 1619) scale(0.955 1)" font-size="45.5" font-weight="bold" text-anchor="middle" >1</text>
<text transform="translate(1947.3 1619) scale(0.955 1)" font-size="45.5" font-weight="bold" text-anchor="middle" >3</text>
<text transform="translate(2088.4 1619) scale(0.955 1)" font-size="45.5" font-weight="bold" text-anchor="middle" >10</text>
<text transform="translate(2229.5 1619) scale(0.955 1)" font-size="45.5" font-weight="bold" text-anchor="middle" >30</text>
<line x1="1756" y1="1645" x2="2276" y2="1645" stroke="#444" stroke-width="4"/>
<text x="1784" y="1690" font-size="46" font-weight="bold" text-anchor="start" textLength="490" lengthAdjust="spacingAndGlyphs" >STZ + bilastine (mg/kg)</text>
<text transform="translate(1299.5 1275) rotate(-90)" font-size="48" font-weight="bold" text-anchor="middle" textLength="395" lengthAdjust="spacingAndGlyphs">P-cadherin/ß-actin</text>
<text transform="translate(1353 1276) rotate(-90)" font-size="48" font-weight="bold" text-anchor="middle" textLength="375" lengthAdjust="spacingAndGlyphs">expression (O.D.)</text>
<text transform="translate(1666 1327.5) scale(1 1)" font-size="46" font-weight="bold" text-anchor="middle">*</text>
<text transform="translate(1787.5 1269.5) scale(1 1)" font-size="46" font-weight="bold" text-anchor="middle">*</text>
<text transform="translate(1823 1263.3) scale(0.83 1)" font-size="50" font-weight="normal" text-anchor="middle" stroke="#0a0a0a" stroke-width="0.7">§</text>
<text transform="translate(2232.6 1028.5) scale(1 1)" font-size="53" font-weight="normal" text-anchor="middle" stroke="#0a0a0a" stroke-width="0.7">#</text>
<line x1="320.5" y1="2011.8" x2="320.5" y2="2045.8" stroke="#0a0a0a" stroke-width="7"/>
<line x1="294.5" y1="2011.8" x2="346.5" y2="2011.8" stroke="#1c1c1c" stroke-width="6"/>
<rect x="272.65" y="2046.05" width="94.5" height="401.2500000000002" fill="#000000" stroke="#000000" stroke-width="6.5"/>
<line x1="461.8" y1="2205.3" x2="461.8" y2="2220" stroke="#0a0a0a" stroke-width="7"/>
<line x1="435.8" y1="2205.3" x2="487.8" y2="2205.3" stroke="#1c1c1c" stroke-width="6"/>
<rect x="414.90000000000003" y="2220.25" width="93.8" height="227.05000000000018" fill="#ff0000" stroke="#300000" stroke-width="6.5"/>
<g filter="url(#blur2)" opacity="0.38" stroke="#300000" stroke-width="5" fill="none"><path d="M419.65000000000003,2443.3 V2225.0 H503.95 V2443.3"/></g>
<line x1="603.1" y1="2210.6" x2="603.1" y2="2235.5" stroke="#0a0a0a" stroke-width="7"/>
<line x1="577.1" y1="2210.6" x2="629.1" y2="2210.6" stroke="#1c1c1c" stroke-width="6"/>
<rect x="556.2" y="2235.75" width="93.8" height="211.55000000000018" fill="#00f6f6" stroke="#062222" stroke-width="6.5"/>
<g filter="url(#blur2)" opacity="0.38" stroke="#062222" stroke-width="5" fill="none"><path d="M560.95,2443.3 V2240.5 H645.25 V2443.3"/></g>
<line x1="744.4000000000001" y1="2100.5" x2="744.4000000000001" y2="2136" stroke="#0a0a0a" stroke-width="7"/>
<line x1="718.4000000000001" y1="2100.5" x2="770.4000000000001" y2="2100.5" stroke="#1c1c1c" stroke-width="6"/>
<rect x="697.5000000000001" y="2136.25" width="93.8" height="311.0500000000002" fill="#009ff6" stroke="#03183a" stroke-width="6.5"/>
<g filter="url(#blur2)" opacity="0.38" stroke="#03183a" stroke-width="5" fill="none"><path d="M702.2500000000001,2443.3 V2141.0 H786.5500000000001 V2443.3"/></g>
<line x1="885.7" y1="2091.9" x2="885.7" y2="2141.7" stroke="#0a0a0a" stroke-width="7"/>
<line x1="859.7" y1="2091.9" x2="911.7" y2="2091.9" stroke="#1c1c1c" stroke-width="6"/>
<rect x="838.8000000000001" y="2141.95" width="93.8" height="305.35000000000036" fill="#0058f8" stroke="#020f40" stroke-width="6.5"/>
<g filter="url(#blur2)" opacity="0.38" stroke="#020f40" stroke-width="5" fill="none"><path d="M843.5500000000001,2443.3 V2146.7 H927.85 V2443.3"/></g>
<line x1="1027.0" y1="2069.8" x2="1027.0" y2="2113" stroke="#0a0a0a" stroke-width="7"/>
<line x1="1001.0" y1="2069.8" x2="1053.0" y2="2069.8" stroke="#1c1c1c" stroke-width="6"/>
<rect x="980.1" y="2113.25" width="93.8" height="334.0500000000002" fill="#0000ff" stroke="#00005a" stroke-width="6.5"/>
<g filter="url(#blur2)" opacity="0.38" stroke="#00005a" stroke-width="5" fill="none"><path d="M984.85,2443.3 V2118.0 H1069.15 V2443.3"/></g>
<line x1="250" y1="1877.7500000000002" x2="250" y2="2450.55" stroke="#000" stroke-width="7.5"/>
<line x1="228" y1="2447.3" x2="1097" y2="2447.3" stroke="#000" stroke-width="6.5"/>
<line x1="228" y1="2447.3" x2="250" y2="2447.3" stroke="#000" stroke-width="6.5"/>
<text transform="translate(226.3 2461.9) scale(0.935 1)" font-size="45" font-weight="bold" text-anchor="end" >0.0</text>
<line x1="228" y1="2305.7250000000004" x2="250" y2="2305.7250000000004" stroke="#000" stroke-width="6.5"/>
<text transform="translate(226.3 2320.3250000000003) scale(0.935 1)" font-size="45" font-weight="bold" text-anchor="end" >0.5</text>
<line x1="228" y1="2164.15" x2="250" y2="2164.15" stroke="#000" stroke-width="6.5"/>
<text transform="translate(226.3 2178.75) scale(0.935 1)" font-size="45" font-weight="bold" text-anchor="end" >1.0</text>
<line x1="228" y1="2022.5750000000003" x2="250" y2="2022.5750000000003" stroke="#000" stroke-width="6.5"/>
<text transform="translate(226.3 2037.1750000000002) scale(0.935 1)" font-size="45" font-weight="bold" text-anchor="end" >1.5</text>
<line x1="228" y1="1881.0000000000002" x2="250" y2="1881.0000000000002" stroke="#000" stroke-width="6.5"/>
<text transform="translate(226.3 1895.6000000000001) scale(0.935 1)" font-size="45" font-weight="bold" text-anchor="end" >2.0</text>
<line x1="320.5" y1="2447.3" x2="320.5" y2="2469.3" stroke="#000" stroke-width="7.5"/>
<line x1="461.8" y1="2447.3" x2="461.8" y2="2469.3" stroke="#000" stroke-width="7.5"/>
<line x1="603.1" y1="2447.3" x2="603.1" y2="2469.3" stroke="#000" stroke-width="7.5"/>
<line x1="744.4000000000001" y1="2447.3" x2="744.4000000000001" y2="2469.3" stroke="#000" stroke-width="7.5"/>
<line x1="885.7" y1="2447.3" x2="885.7" y2="2469.3" stroke="#000" stroke-width="7.5"/>
<line x1="1027.0" y1="2447.3" x2="1027.0" y2="2469.3" stroke="#000" stroke-width="7.5"/>
<text transform="translate(320.5 2507.7) scale(0.955 1)" font-size="45.5" font-weight="bold" text-anchor="middle" >CTRL</text>
<text transform="translate(461.8 2507.7) scale(0.955 1)" font-size="45.5" font-weight="bold" text-anchor="middle" >STZ</text>
<text transform="translate(599.6 2507.7) scale(0.955 1)" font-size="45.5" font-weight="bold" text-anchor="middle" >1</text>
<text transform="translate(744.4000000000001 2507.7) scale(0.955 1)" font-size="45.5" font-weight="bold" text-anchor="middle" >3</text>
<text transform="translate(885.7 2507.7) scale(0.955 1)" font-size="45.5" font-weight="bold" text-anchor="middle" >10</text>
<text transform="translate(1027.0 2507.7) scale(0.955 1)" font-size="45.5" font-weight="bold" text-anchor="middle" >30</text>
<line x1="553" y1="2534" x2="1073" y2="2534" stroke="#444" stroke-width="4"/>
<text x="582.3" y="2578" font-size="46" font-weight="bold" text-anchor="start" textLength="489.70000000000005" lengthAdjust="spacingAndGlyphs" >STZ + bilastine (mg/kg)</text>
<text transform="translate(95 2164) rotate(-90)" font-size="48" font-weight="bold" text-anchor="middle" textLength="334" lengthAdjust="spacingAndGlyphs">podocin/ß-actin</text>
<text transform="translate(152 2164.5) rotate(-90)" font-size="48" font-weight="bold" text-anchor="middle" textLength="374.5" lengthAdjust="spacingAndGlyphs">expression (O.D.)</text>
<text transform="translate(467 2207.5) scale(1 1)" font-size="46" font-weight="bold" text-anchor="middle">*</text>
<text transform="translate(604 2206.5) scale(1 1)" font-size="46" font-weight="bold" text-anchor="middle">*</text>
<line x1="1524.0" y1="2120.6" x2="1524.0" y2="2125.9" stroke="#0a0a0a" stroke-width="7"/>
<line x1="1498.0" y1="2120.6" x2="1550.0" y2="2120.6" stroke="#1c1c1c" stroke-width="6"/>
<rect x="1476.15" y="2126.15" width="94.5" height="321.1500000000001" fill="#000000" stroke="#000000" stroke-width="6.5"/>
<line x1="1665.1" y1="2248" x2="1665.1" y2="2259" stroke="#0a0a0a" stroke-width="7"/>
<line x1="1639.1" y1="2248" x2="1691.1" y2="2248" stroke="#1c1c1c" stroke-width="6"/>
<rect x="1618.1999999999998" y="2259.25" width="93.8" height="188.05000000000018" fill="#ff0000" stroke="#300000" stroke-width="6.5"/>
<g filter="url(#blur2)" opacity="0.38" stroke="#300000" stroke-width="5" fill="none"><path d="M1622.9499999999998,2443.3 V2264.0 H1707.25 V2443.3"/></g>
<line x1="1806.2" y1="2183" x2="1806.2" y2="2196.5" stroke="#0a0a0a" stroke-width="7"/>
<line x1="1780.2" y1="2183" x2="1832.2" y2="2183" stroke="#1c1c1c" stroke-width="6"/>
<rect x="1759.3" y="2196.75" width="93.8" height="250.55000000000018" fill="#00f6f6" stroke="#062222" stroke-width="6.5"/>
<g filter="url(#blur2)" opacity="0.38" stroke="#062222" stroke-width="5" fill="none"><path d="M1764.05,2443.3 V2201.5 H1848.3500000000001 V2443.3"/></g>
<line x1="1947.3" y1="2188.4" x2="1947.3" y2="2209.2" stroke="#0a0a0a" stroke-width="7"/>
<line x1="1921.3" y1="2188.4" x2="1973.3" y2="2188.4" stroke="#1c1c1c" stroke-width="6"/>
<rect x="1900.3999999999999" y="2209.45" width="93.8" height="237.85000000000036" fill="#009ff6" stroke="#03183a" stroke-width="6.5"/>
<g filter="url(#blur2)" opacity="0.38" stroke="#03183a" stroke-width="5" fill="none"><path d="M1905.1499999999999,2443.3 V2214.2 H1989.45 V2443.3"/></g>
<line x1="2088.4" y1="2140" x2="2088.4" y2="2165.6" stroke="#0a0a0a" stroke-width="7"/>
<line x1="2062.4" y1="2140" x2="2114.4" y2="2140" stroke="#1c1c1c" stroke-width="6"/>
<rect x="2041.5" y="2165.85" width="93.8" height="281.4500000000003" fill="#0058f8" stroke="#020f40" stroke-width="6.5"/>
<g filter="url(#blur2)" opacity="0.38" stroke="#020f40" stroke-width="5" fill="none"><path d="M2046.25,2443.3 V2170.6 H2130.55 V2443.3"/></g>
<line x1="2229.5" y1="1996.5" x2="2229.5" y2="2034" stroke="#0a0a0a" stroke-width="7"/>
<line x1="2203.5" y1="1996.5" x2="2255.5" y2="1996.5" stroke="#1c1c1c" stroke-width="6"/>
<rect x="2182.6" y="2034.25" width="93.8" height="413.0500000000002" fill="#0000ff" stroke="#00005a" stroke-width="6.5"/>
<g filter="url(#blur2)" opacity="0.38" stroke="#00005a" stroke-width="5" fill="none"><path d="M2187.35,2443.3 V2039.0 H2271.65 V2443.3"/></g>
<line x1="1453" y1="1877.8000000000002" x2="1453" y2="2450.55" stroke="#000" stroke-width="7.5"/>
<line x1="1431.5" y1="2447.3" x2="2299" y2="2447.3" stroke="#000" stroke-width="6.5"/>
<line x1="1431.5" y1="2447.3" x2="1453" y2="2447.3" stroke="#000" stroke-width="6.5"/>
<text transform="translate(1430.3 2461.9) scale(0.935 1)" font-size="45" font-weight="bold" text-anchor="end" >0.0</text>
<line x1="1431.5" y1="2258.55" x2="1453" y2="2258.55" stroke="#000" stroke-width="6.5"/>
<text transform="translate(1430.3 2273.15) scale(0.935 1)" font-size="45" font-weight="bold" text-anchor="end" >0.5</text>
<line x1="1431.5" y1="2069.8" x2="1453" y2="2069.8" stroke="#000" stroke-width="6.5"/>
<text transform="translate(1430.3 2084.4) scale(0.935 1)" font-size="45" font-weight="bold" text-anchor="end" >1.0</text>
<line x1="1431.5" y1="1881.0500000000002" x2="1453" y2="1881.0500000000002" stroke="#000" stroke-width="6.5"/>
<text transform="translate(1430.3 1895.65) scale(0.935 1)" font-size="45" font-weight="bold" text-anchor="end" >1.5</text>
<line x1="1524.0" y1="2447.3" x2="1524.0" y2="2469.3" stroke="#000" stroke-width="7.5"/>
<line x1="1665.1" y1="2447.3" x2="1665.1" y2="2469.3" stroke="#000" stroke-width="7.5"/>
<line x1="1806.2" y1="2447.3" x2="1806.2" y2="2469.3" stroke="#000" stroke-width="7.5"/>
<line x1="1947.3" y1="2447.3" x2="1947.3" y2="2469.3" stroke="#000" stroke-width="7.5"/>
<line x1="2088.4" y1="2447.3" x2="2088.4" y2="2469.3" stroke="#000" stroke-width="7.5"/>
<line x1="2229.5" y1="2447.3" x2="2229.5" y2="2469.3" stroke="#000" stroke-width="7.5"/>
<text transform="translate(1524.0 2507.5) scale(0.955 1)" font-size="45.5" font-weight="bold" text-anchor="middle" >CTRL</text>
<text transform="translate(1665.1 2507.5) scale(0.955 1)" font-size="45.5" font-weight="bold" text-anchor="middle" >STZ</text>
<text transform="translate(1802.7 2507.5) scale(0.955 1)" font-size="45.5" font-weight="bold" text-anchor="middle" >1</text>
<text transform="translate(1947.3 2507.5) scale(0.955 1)" font-size="45.5" font-weight="bold" text-anchor="middle" >3</text>
<text transform="translate(2088.4 2507.5) scale(0.955 1)" font-size="45.5" font-weight="bold" text-anchor="middle" >10</text>
<text transform="translate(2229.5 2507.5) scale(0.955 1)" font-size="45.5" font-weight="bold" text-anchor="middle" >30</text>
<line x1="1756" y1="2534" x2="2276" y2="2534" stroke="#444" stroke-width="4"/>
<text x="1784" y="2578" font-size="46" font-weight="bold" text-anchor="start" textLength="490" lengthAdjust="spacingAndGlyphs" >STZ + bilastine (mg/kg)</text>
<text transform="translate(1299.5 2164.5) rotate(-90)" font-size="48" font-weight="bold" text-anchor="middle" textLength="447.5" lengthAdjust="spacingAndGlyphs">synaptopodin/ß-actin</text>
<text transform="translate(1353 2164.5) rotate(-90)" font-size="48" font-weight="bold" text-anchor="middle" textLength="374.5" lengthAdjust="spacingAndGlyphs">expression (O.D.)</text>
<text transform="translate(1666 2238.5) scale(1 1)" font-size="46" font-weight="bold" text-anchor="middle">*</text>
<text transform="translate(1806.5 2167.3) scale(0.83 1)" font-size="50" font-weight="normal" text-anchor="middle" stroke="#0a0a0a" stroke-width="0.7">§</text>
<text transform="translate(1951.5 2164.8) scale(0.83 1)" font-size="50" font-weight="normal" text-anchor="middle" stroke="#0a0a0a" stroke-width="0.7">§</text>
<text transform="translate(2089.5 2118.8) scale(0.83 1)" font-size="50" font-weight="normal" text-anchor="middle" stroke="#0a0a0a" stroke-width="0.7">§</text>
<text transform="translate(2232.6 1981.5) scale(1 1)" font-size="53" font-weight="normal" text-anchor="middle" stroke="#0a0a0a" stroke-width="0.7">#</text>
</g>
</svg></body></html>
